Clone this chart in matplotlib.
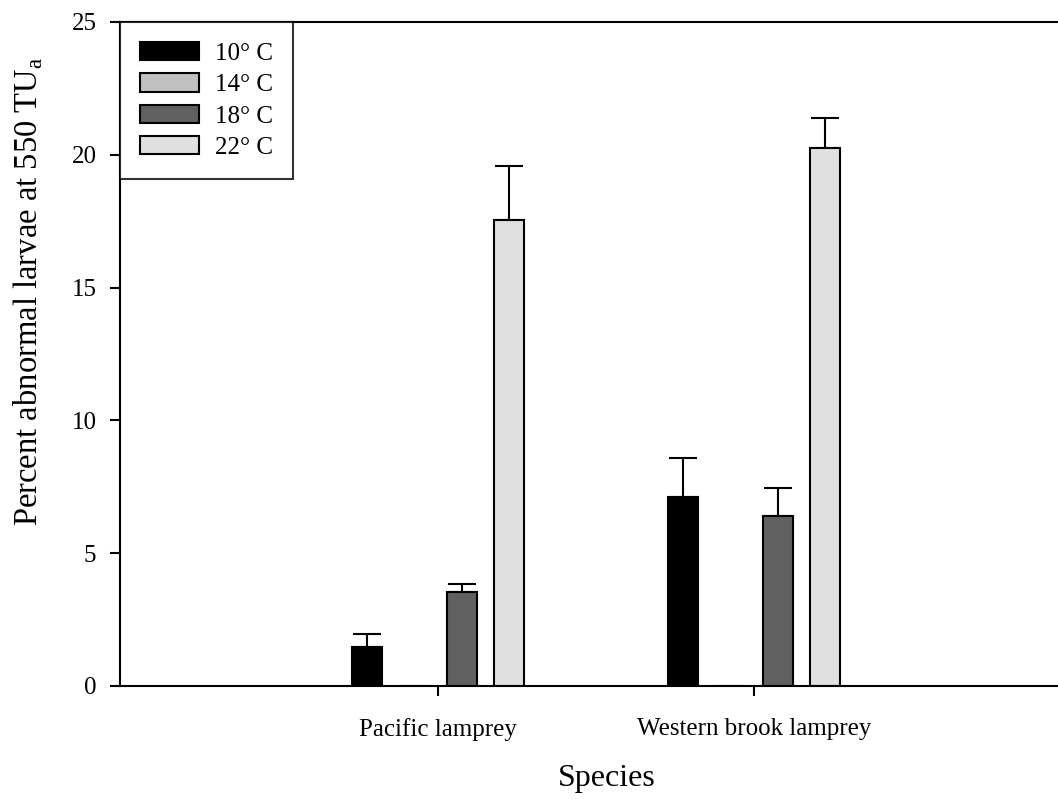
import numpy as np
import matplotlib
matplotlib.use("Agg")
import matplotlib.pyplot as plt

plt.rcParams['font.family'] = ['Liberation Serif', 'DejaVu Serif']
plt.rcParams['mathtext.fontset'] = 'custom'
plt.rcParams['mathtext.rm'] = 'Liberation Serif'

species = ['Pacific lamprey', 'Western brook lamprey']
temps = ['10° C', '14° C', '18° C', '22° C']
colors = ['#000000', '#c0c0c0', '#606060', '#e0e0e0']

# mittelwerte je temperatur (pacific, western brook)
means = {
    '10° C': [1.46, 7.10],
    '14° C': [0.0, 0.0],
    '18° C': [3.54, 6.41],
    '22° C': [17.55, 20.27],
}
# obere fehlerbalken (standardfehler)
errors = {
    '10° C': [0.51, 1.48],
    '14° C': [0.0, 0.0],
    '18° C': [0.30, 1.04],
    '22° C': [2.04, 1.13],
}

fig = plt.figure(figsize=(10.58, 7.99), dpi=100)
ax = fig.add_axes([120 / 1058, 113 / 799, 938 / 1058, 664 / 799])

x = np.arange(len(species))
step = 0.15
width = 0.095
for i, t in enumerate(temps):
    pos = x + (i - 1.5) * step
    vals = means[t]
    err = errors[t]
    ax.bar(pos, vals, width, color=colors[i], edgecolor='black', linewidth=1.5,
           label=t, zorder=2)
    if t == '14° C':
        continue
    ax.errorbar(pos, vals, yerr=[np.zeros(len(err)), err], fmt='none',
                ecolor='black', elinewidth=1.5, capsize=10, capthick=1.5, zorder=1)

ax.set_xlim(-1.006, 1.962)
ax.set_ylim(0, 25)
ax.set_xticks(x)
ax.set_xticklabels(species)
ax.set_yticks([0, 5, 10, 15, 20, 25])
ax.tick_params(axis='both', direction='out', length=7, width=1.5, labelsize=18)
ax.tick_params(axis='x', pad=16)
ax.tick_params(axis='y', pad=10)

for s in ['left', 'bottom', 'top']:
    ax.spines[s].set_linewidth(1.5)
ax.spines['right'].set_visible(False)

ax.set_xlabel('Species', fontsize=23)
ax.set_ylabel('Percent abnormal larvae at 550 TU$_\\mathrm{a}$', fontsize=23.5)
ax.xaxis.set_label_coords(0.519, -0.117)
ax.yaxis.set_label_coords(-0.08, 0.595)

leg = ax.legend(loc='upper left', bbox_to_anchor=(0, 1), fontsize=18, frameon=True,
                fancybox=False, edgecolor='black', handlelength=2.35, handleheight=0.75,
                labelspacing=0.34, borderpad=0.8, handletextpad=0.65, borderaxespad=0)
leg.get_frame().set_linewidth(1.5)

fig.savefig('out.png', dpi=100)
